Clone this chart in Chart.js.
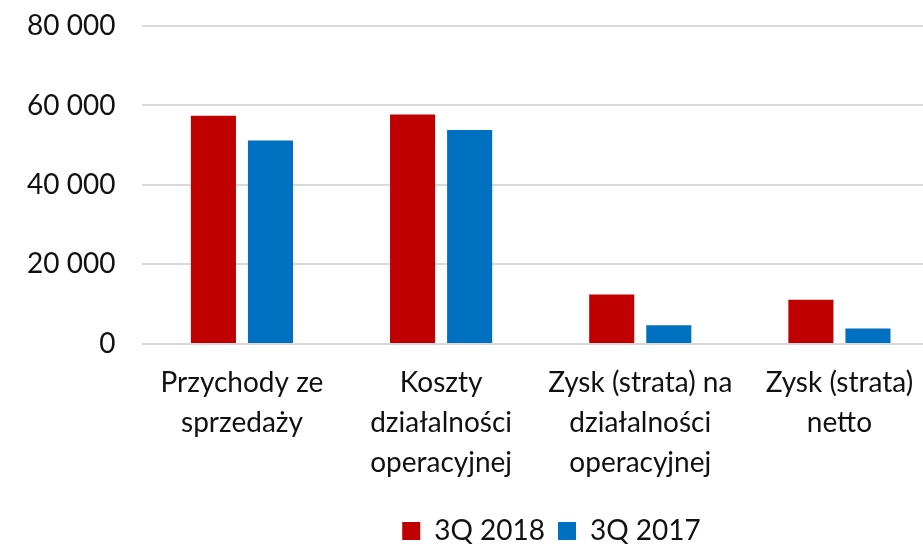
<!DOCTYPE html>
<html>
<head>
<meta charset="utf-8">
<script src="https://cdn.jsdelivr.net/npm/chart.js@4.4.0/dist/chart.umd.min.js"></script>
<style>
  html, body { margin: 0; padding: 0; background: #fff; overflow: hidden; }
  #wrap { width: 923px; height: 545px; overflow: hidden; }
</style>
</head>
<body>
<!-- the plot runs a little past the right edge in the original, so the canvas is wider than the view -->
<div id="wrap"><canvas id="chart" width="939" height="545"></canvas></div>
<script>
const categories = [
  ["Przychody ze", "sprzedaży"],
  ["Koszty", "działalności", "operacyjnej"],
  ["Zysk (strata) na", "działalności", "operacyjnej"],
  ["Zysk (strata)", "netto"],
];
const values2018 = [57400, 57700, 12400, 11100];
const values2017 = [51200, 53800, 4700, 3900];
const yTicks = [0, 20000, 40000, 60000, 80000];

const fmt = (v) => String(v).replace(/\B(?=(\d{3})+(?!\d))/g, " ");

// move the legend right and down so it sits like the original
const shiftLegend = {
  id: "shiftLegend",
  afterUpdate(chart) {
    const l = chart.legend;
    l.left += 82;
    l.right += 82;
    l.top += 10;
    l.bottom += 10;
    l.adjustHitBoxes();
  },
};

new Chart(document.getElementById("chart"), {
  type: "bar",
  data: {
    labels: categories,
    datasets: [
      {
        label: "3Q 2018",
        data: values2018,
        backgroundColor: "#C00000",
        barPercentage: 0.79,
        categoryPercentage: 0.573,
      },
      {
        label: "3Q 2017",
        data: values2017,
        backgroundColor: "#0070C0",
        barPercentage: 0.79,
        categoryPercentage: 0.573,
      },
    ],
  },
  options: {
    responsive: false,
    animation: false,
    layout: { padding: 0 },
    font: { family: "Lato" },
    plugins: {
      legend: {
        position: "bottom",
        labels: {
          boxWidth: 18,
          boxHeight: 18,
          padding: 13,
          color: "#111",
          font: { family: "Lato", size: 28 },
        },
      },
      tooltip: { enabled: false },
    },
    scales: {
      x: {
        grid: { display: false },
        border: { display: false },
        ticks: {
          color: "#111",
          font: { family: "Lato", size: 28, lineHeight: 1.43 },
          maxRotation: 0,
          autoSkip: false,
          padding: 11,
        },
      },
      y: {
        min: 0,
        max: 80000,
        afterBuildTicks(axis) {
          axis.ticks = yTicks.map((v) => ({ value: v }));
        },
        afterFit(axis) {
          axis.paddingTop = 26;
        },
        grid: { color: "#d9d9d9", lineWidth: 2, drawTicks: false },
        border: { display: false },
        ticks: {
          color: "#111",
          font: { family: "Lato", size: 28 },
          padding: 27,
          callback: (v) => fmt(v),
        },
      },
    },
  },
  plugins: [shiftLegend],
});
</script>
</body>
</html>
